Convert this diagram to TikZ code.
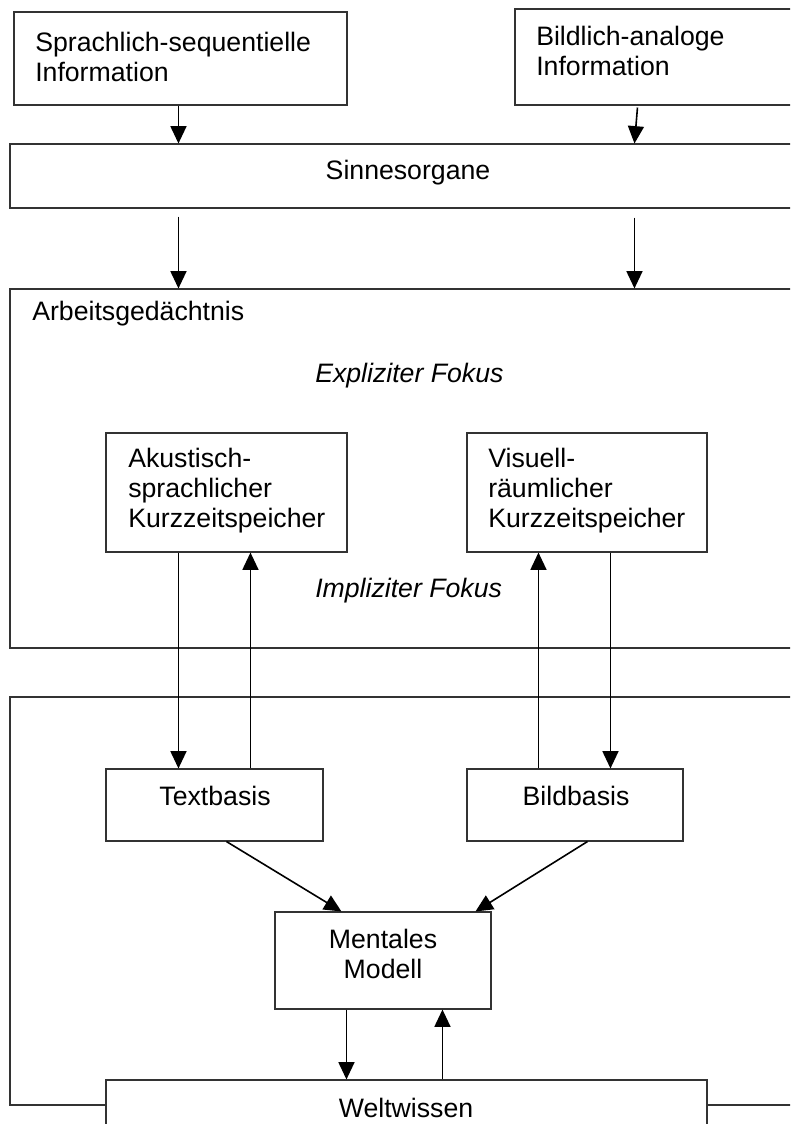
\documentclass[tikz,border=0pt]{standalone}
\usepackage{fontspec}
\setmainfont{Liberation Sans}
\usetikzlibrary{arrows.meta,fit,calc}
\begin{document}
\begin{tikzpicture}[x=0.75pt,y=-0.75pt,
  box/.style={draw=black!80,line width=0.8pt,inner sep=0pt,fill=white},
  lbl/.style={inner sep=0pt,font=\fontsize{20}{22.5}\selectfont,align=left},
  arr/.style={line width=1.2pt,-{Triangle[length=13pt,width=12pt]}}]
\clip (0,0) rectangle (790,1124);
% boxes
\node[box,fit={(14,12) (347,105)}] (infoL) {};
\node[box,fit={(515,9) (800,105)}] (infoR) {};
\node[box,fit={(10,144) (800,208)}] (sinn) {};
\node[box,fit={(10,289) (800,648)}] (ag) {};
\node[box,fit={(10,697) (800,1105)}] (lt) {};
\node[box,fit={(106,433) (347,552)}] (akus) {};
\node[box,fit={(467,433) (707,552)}] (visu) {};
\node[box,fit={(106,769) (323,841)}] (textb) {};
\node[box,fit={(467,769) (683,841)}] (bildb) {};
\node[box,fit={(275,912) (491,1009)}] (ment) {};
\node[box,fit={(106,1080) (707,1140)}] (welt) {};
% texts
\node[lbl,anchor=west] (tinfoL) at (35,57) {Sprachlich-sequentielle\\Information};
\node[lbl,anchor=west] (tinfoR) at (536,51) {Bildlich-analoge\\Information};
\node[lbl] (tsinn) at (408,173) {Sinnesorgane};
\node[lbl,anchor=west] (tag) at (32,314) {Arbeitsged\"achtnis};
\node[lbl,anchor=west,font=\fontsize{20}{22.5}\selectfont\itshape] (texpl) at (315,376) {Expliziter Fokus};
\node[lbl,anchor=west,font=\fontsize{20}{22.5}\selectfont\itshape] (timpl) at (315,591) {Impliziter Fokus};
\node[lbl,anchor=west] (takus) at (128,491) {Akustisch-\\sprachlicher\\Kurzzeitspeicher};
\node[lbl,anchor=west] (tvisu) at (488,491) {Visuell-\\r\"aumlicher\\Kurzzeitspeicher};
\node[lbl] (ttextb) at (215,796) {Textbasis};
\node[lbl] (tbildb) at (576,796) {Bildbasis};
\node[lbl,align=center] (tment) at (383,954) {Mentales\\Modell};
\node[lbl] (twelt) at (406,1108) {Weltwissen};
% arrows
\draw[arr] ($(infoL.south west)+(165,0)$) -- ($(sinn.north west)+(169,0)$);
\draw[arr] ($(infoR.south west)+(123,2)$) -- ($(sinn.north west)+(625,0)$);
\draw[arr] ($(sinn.south west)+(169,8)$) -- ($(ag.north west)+(169,0)$);
\draw[arr] ($(sinn.south west)+(625,9)$) -- ($(ag.north west)+(625,0)$);
\draw[arr] ($(akus.south west)+(73,0)$) -- ($(textb.north west)+(73,0)$);
\draw[arr] ($(textb.north west)+(145,0)$) -- ($(akus.south west)+(145,0)$);
\draw[arr] ($(bildb.north west)+(72,0)$) -- ($(visu.south west)+(72,0)$);
\draw[arr] ($(visu.south west)+(144,0)$) -- ($(bildb.north west)+(144,0)$);
\draw[arr] ($(textb.south west)+(121,0)$) -- ($(ment.north west)+(67,0)$);
\draw[arr] ($(bildb.south west)+(121,0)$) -- ($(ment.north west)+(201,0)$);
\draw[arr] ($(ment.south west)+(72,0)$) -- ($(welt.north west)+(241,0)$);
\draw[arr] ($(welt.north west)+(337,0)$) -- ($(ment.south west)+(168,0)$);
\end{tikzpicture}
\end{document}
